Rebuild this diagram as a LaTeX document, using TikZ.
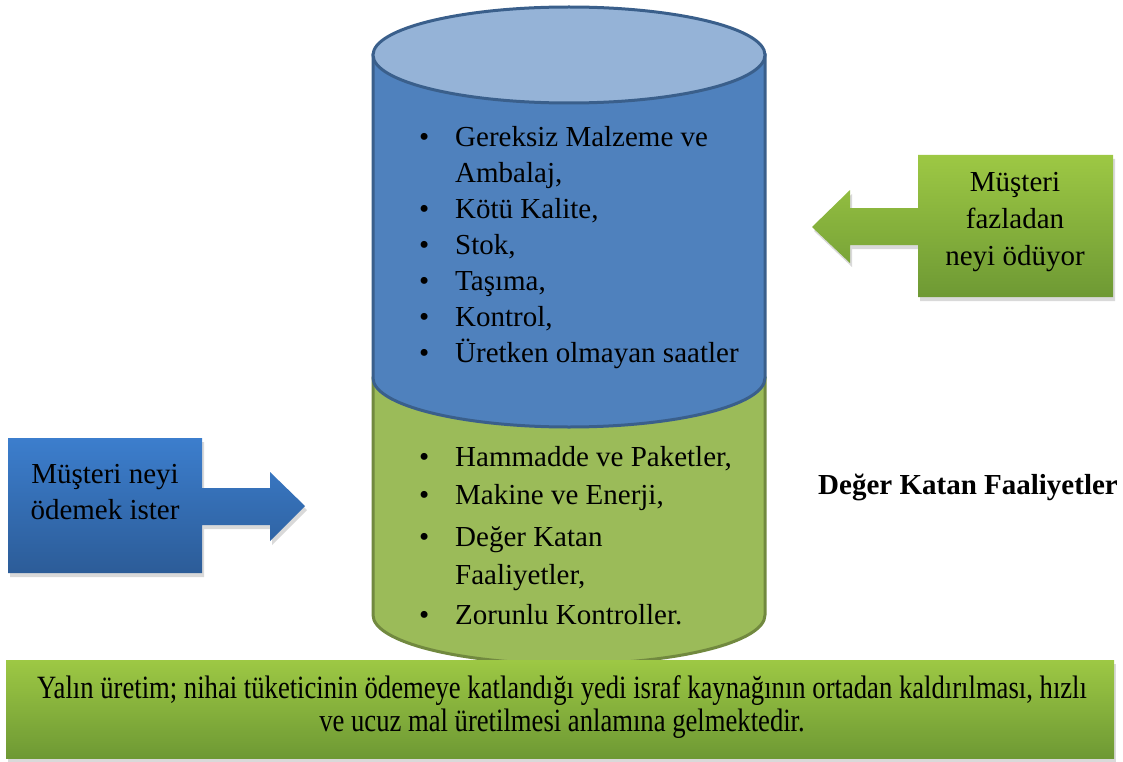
\documentclass[tikz,border=0pt]{standalone}
\usepackage{fontspec}
\setmainfont{Liberation Serif}
\newfontfamily\narrowserif[FakeStretch=0.82]{Liberation Serif}
\usetikzlibrary{shadows}

\definecolor{cylblue}{HTML}{4F81BD}
\definecolor{cyltop}{HTML}{95B3D7}
\definecolor{cylblueline}{HTML}{3A5F8B}
\definecolor{cylgreen}{HTML}{9BBB59}
\definecolor{cylgreenline}{HTML}{71893F}
\definecolor{calltopblue}{HTML}{3C7ECD}
\definecolor{callbotblue}{HTML}{2C5C98}
\definecolor{calltopgreen}{HTML}{9DC844}
\definecolor{callbotgreen}{HTML}{6E9934}

\tikzset{
  softshadow/.style={drop shadow={opacity=0.3, shadow xshift=2pt, shadow yshift=-4pt}},
  bluecall/.style={top color=calltopblue, bottom color=callbotblue, softshadow},
  greencall/.style={top color=calltopgreen, bottom color=callbotgreen, softshadow},
  listtext/.style={inner sep=0pt, font=\fontsize{29}{36}\selectfont},
  calltext/.style={inner sep=0pt, align=center, font=\fontsize{29}{36}\selectfont},
}

\begin{document}
\begin{tikzpicture}[x=1pt, y=-1pt]
  \useasboundingbox (0,0) rectangle (1123,762);

  % cylinder: green lower part, blue upper part, light top
  \draw[fill=cylgreen, draw=cylgreenline, line width=3pt]
    (373,378) -- (373,615) arc[start angle=180, end angle=360, x radius=196pt, y radius=49pt]
    -- (765,378) -- cycle;
  \draw[fill=cylblue, draw=cylblueline, line width=3pt]
    (373,55) -- (373,378) arc[start angle=180, end angle=360, x radius=196pt, y radius=49pt]
    -- (765,55) -- cycle;
  \draw[fill=cyltop, draw=cylblueline, line width=3pt]
    (569,55) ellipse[x radius=196pt, y radius=48pt];

  \node[listtext, anchor=north west] (wastelist) at (419,121) {%
    \begin{tabular}{@{}p{36pt}@{}l@{}}
      \textbullet & Gereksiz Malzeme ve\\
                  & Ambalaj,\\
      \textbullet & Kötü Kalite,\\
      \textbullet & Stok,\\
      \textbullet & Taşıma,\\
      \textbullet & Kontrol,\\
      \textbullet & Üretken olmayan saatler
    \end{tabular}};

  \node[listtext, anchor=north west] (valuelist) at (419,441) {%
    \begin{tabular}{@{}p{36pt}@{}l@{}}
      \textbullet & Hammadde ve Paketler,\\[2pt]
      \textbullet & Makine ve Enerji,\\[6pt]
      \textbullet & Değer Katan\\[2pt]
                  & Faaliyetler,\\[4pt]
      \textbullet & Zorunlu Kontroller.
    \end{tabular}};

  % left callout
  \path[bluecall] (8,438) -- (202,438) -- (202,488) -- (270,488) -- (270,472)
    -- (305,506) -- (270,541) -- (270,525) -- (202,525) -- (202,573) -- (8,573) -- cycle;
  \node[calltext] (paywant) at (105,492) {Müşteri neyi\\ödemek ister};

  % right callout
  \path[greencall] (1113,155) -- (918,155) -- (918,208) -- (850,208) -- (850,190)
    -- (812,227) -- (850,263) -- (850,245) -- (918,245) -- (918,297) -- (1113,297) -- cycle;
  \node[calltext, font=\fontsize{29}{37}\selectfont] (payextra) at (1015,222)
    {Müşteri\\fazladan\\neyi ödüyor};

  \node[inner sep=0pt, font=\fontsize{29}{36}\selectfont\bfseries] (valuelabel) at (968,487)
    {Değer Katan Faaliyetler};

  % bottom note
  \path[greencall] (6,660) rectangle (1114,758);
  \node[calltext, font=\narrowserif\fontsize{32.5}{33}\selectfont] (leannote) at (562,707)
    {Yalın üretim; nihai tüketicinin ödemeye katlandığı yedi israf kaynağının ortadan kaldırılması, hızlı\\
     ve ucuz mal üretilmesi anlamına gelmektedir.};
\end{tikzpicture}
\end{document}
